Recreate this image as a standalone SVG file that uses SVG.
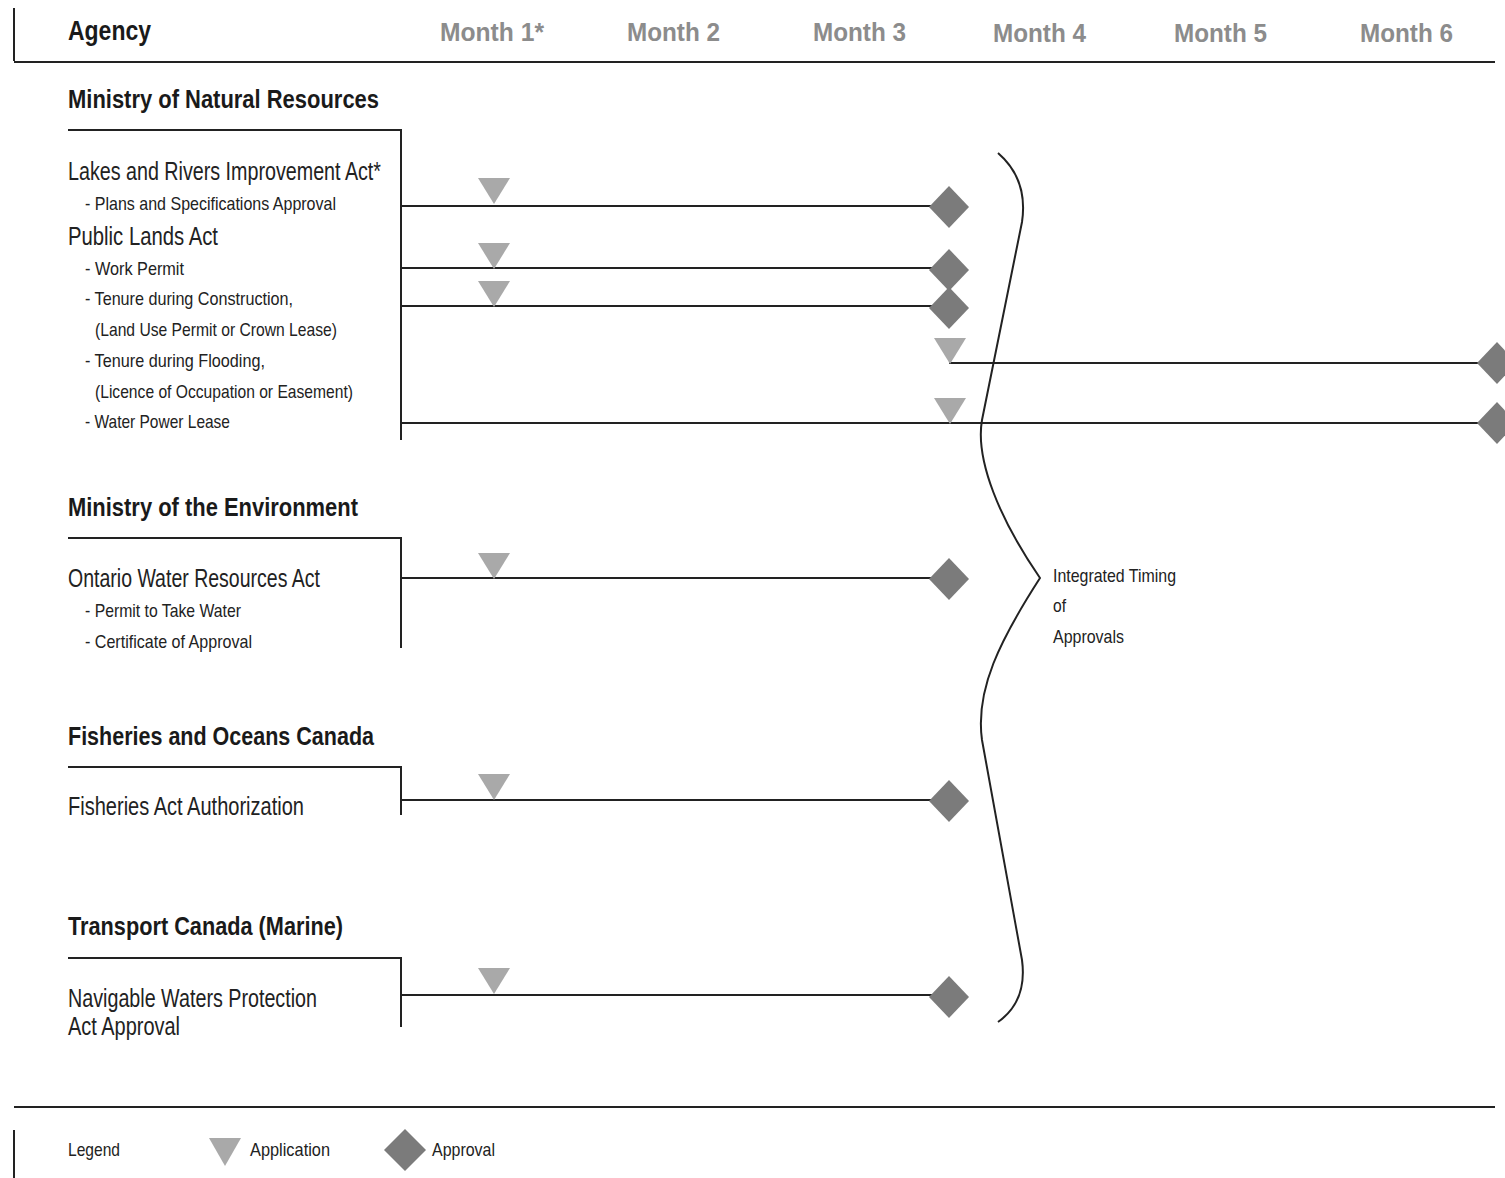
<svg xmlns="http://www.w3.org/2000/svg" width="1505" height="1178" viewBox="0 0 1505 1178">
<style>
text{font-family:"Liberation Sans Narrow","Liberation Sans","DejaVu Sans Condensed",sans-serif;fill:#222}
.hd{font-weight:bold;font-size:27px;fill:#1a1a1a}
.mo{font-weight:bold;font-size:26px;fill:#8c8c8c}
.ag{font-weight:bold;font-size:25px;fill:#1a1a1a}
.act{font-size:25px}
.sub{font-size:19px}
.sm{font-size:19px}
.ln{stroke:#222;stroke-width:2;fill:none}
.tri{fill:#a9a9a9}
.dia{fill:#7b7b7b}
</style>
<defs>
<polygon id="tri" class="tri" points="-16,0 16,0 0,26"/>
<polygon id="dia" class="dia" points="0,-21 20,0 0,21 -20,0"/>
</defs>
<g id="header">
<line class="ln" x1="14" y1="8" x2="14" y2="61"/>
<line class="ln" x1="14" y1="62" x2="1495" y2="62"/>
<text class="hd" x="68" y="40" textLength="83" lengthAdjust="spacingAndGlyphs">Agency</text>
<text class="mo" x="440" y="41" textLength="104" lengthAdjust="spacingAndGlyphs">Month 1*</text>
<text class="mo" x="627" y="41" textLength="93" lengthAdjust="spacingAndGlyphs">Month 2</text>
<text class="mo" x="813" y="41" textLength="93" lengthAdjust="spacingAndGlyphs">Month 3</text>
<text class="mo" x="993" y="42" textLength="93" lengthAdjust="spacingAndGlyphs">Month 4</text>
<text class="mo" x="1174" y="42" textLength="93" lengthAdjust="spacingAndGlyphs">Month 5</text>
<text class="mo" x="1360" y="42" textLength="93" lengthAdjust="spacingAndGlyphs">Month 6</text>
</g>
<g id="mnr">
<text class="ag" x="68" y="108" textLength="311" lengthAdjust="spacingAndGlyphs">Ministry of Natural Resources</text>
<polyline class="ln" points="68,130 401,130 401,440"/>
<text class="act" x="68" y="180" textLength="313" lengthAdjust="spacingAndGlyphs">Lakes and Rivers Improvement Act*</text>
<text class="sub" x="85" y="210" textLength="251" lengthAdjust="spacingAndGlyphs">- Plans and Specifications Approval</text>
<text class="act" x="68" y="245" textLength="150" lengthAdjust="spacingAndGlyphs">Public Lands Act</text>
<text class="sub" x="85" y="275" textLength="99" lengthAdjust="spacingAndGlyphs">- Work Permit</text>
<text class="sub" x="85" y="305" textLength="208" lengthAdjust="spacingAndGlyphs">- Tenure during Construction,</text>
<text class="sub" x="95" y="336" textLength="242" lengthAdjust="spacingAndGlyphs">(Land Use Permit or Crown Lease)</text>
<text class="sub" x="85" y="367" textLength="180" lengthAdjust="spacingAndGlyphs">- Tenure during Flooding,</text>
<text class="sub" x="95" y="398" textLength="258" lengthAdjust="spacingAndGlyphs">(Licence of Occupation or Easement)</text>
<text class="sub" x="85" y="428" textLength="145" lengthAdjust="spacingAndGlyphs">- Water Power Lease</text>
</g>
<g id="moe">
<text class="ag" x="68" y="516" textLength="290" lengthAdjust="spacingAndGlyphs">Ministry of the Environment</text>
<polyline class="ln" points="68,538 401,538 401,648"/>
<text class="act" x="68" y="587" textLength="252" lengthAdjust="spacingAndGlyphs">Ontario Water Resources Act</text>
<text class="sub" x="85" y="617" textLength="156" lengthAdjust="spacingAndGlyphs">- Permit to Take Water</text>
<text class="sub" x="85" y="648" textLength="167" lengthAdjust="spacingAndGlyphs">- Certificate of Approval</text>
</g>
<g id="dfo">
<text class="ag" x="68" y="745" textLength="306" lengthAdjust="spacingAndGlyphs">Fisheries and Oceans Canada</text>
<polyline class="ln" points="68,767 401,767 401,815"/>
<text class="act" x="68" y="815" textLength="236" lengthAdjust="spacingAndGlyphs">Fisheries Act Authorization</text>
</g>
<g id="tc">
<text class="ag" x="68" y="935" textLength="275" lengthAdjust="spacingAndGlyphs">Transport Canada (Marine)</text>
<polyline class="ln" points="68,958 401,958 401,1027"/>
<text class="act" x="68" y="1007" textLength="249" lengthAdjust="spacingAndGlyphs">Navigable Waters Protection</text>
<text class="act" x="68" y="1035" textLength="112" lengthAdjust="spacingAndGlyphs">Act Approval</text>
</g>
<g id="connectors">
<line class="ln" x1="401" y1="206" x2="932" y2="206"/>
<line class="ln" x1="401" y1="268" x2="932" y2="268"/>
<line class="ln" x1="401" y1="306" x2="932" y2="306"/>
<line class="ln" x1="949" y1="363" x2="1480" y2="363"/>
<line class="ln" x1="401" y1="423" x2="1480" y2="423"/>
<line class="ln" x1="401" y1="578" x2="932" y2="578"/>
<line class="ln" x1="401" y1="800" x2="932" y2="800"/>
<line class="ln" x1="401" y1="995" x2="932" y2="995"/>
<path class="ln" stroke-width="1.6" d="M998,153 C1020,172 1026,195 1022,222 L982,420 C975,460 1000,520 1040,578 C1000,640 975,690 982,740 L1022,960 C1026,990 1015,1010 998,1022"/>
</g>
<g id="markers">
<use href="#tri" x="494" y="178"/>
<use href="#tri" x="494" y="243"/>
<use href="#tri" x="494" y="281"/>
<use href="#tri" x="950" y="338"/>
<use href="#tri" x="950" y="398"/>
<use href="#tri" x="494" y="553"/>
<use href="#tri" x="494" y="774"/>
<use href="#tri" x="494" y="968"/>
<use href="#dia" x="949" y="207"/>
<use href="#dia" x="949" y="270"/>
<use href="#dia" x="949" y="308"/>
<use href="#dia" x="1497" y="363"/>
<use href="#dia" x="1497" y="423"/>
<use href="#dia" x="949" y="579"/>
<use href="#dia" x="949" y="801"/>
<use href="#dia" x="949" y="997"/>
</g>
<g id="brace-label">
<text class="sm" x="1053" y="582" textLength="123" lengthAdjust="spacingAndGlyphs">Integrated Timing</text>
<text class="sm" x="1053" y="612" textLength="13" lengthAdjust="spacingAndGlyphs">of</text>
<text class="sm" x="1053" y="643" textLength="71" lengthAdjust="spacingAndGlyphs">Approvals</text>
</g>
<g id="legend">
<line class="ln" x1="14" y1="1107" x2="1495" y2="1107"/>
<line class="ln" x1="14" y1="1130" x2="14" y2="1178"/>
<text class="sm" x="68" y="1156" textLength="52" lengthAdjust="spacingAndGlyphs">Legend</text>
<polygon class="tri" points="209,1138 241,1138 225,1166"/>
<text class="sm" x="250" y="1156" textLength="80" lengthAdjust="spacingAndGlyphs">Application</text>
<polygon class="dia" points="405,1129 426,1150 405,1171 384,1150"/>
<text class="sm" x="432" y="1156" textLength="63" lengthAdjust="spacingAndGlyphs">Approval</text>
</g>
</svg>
